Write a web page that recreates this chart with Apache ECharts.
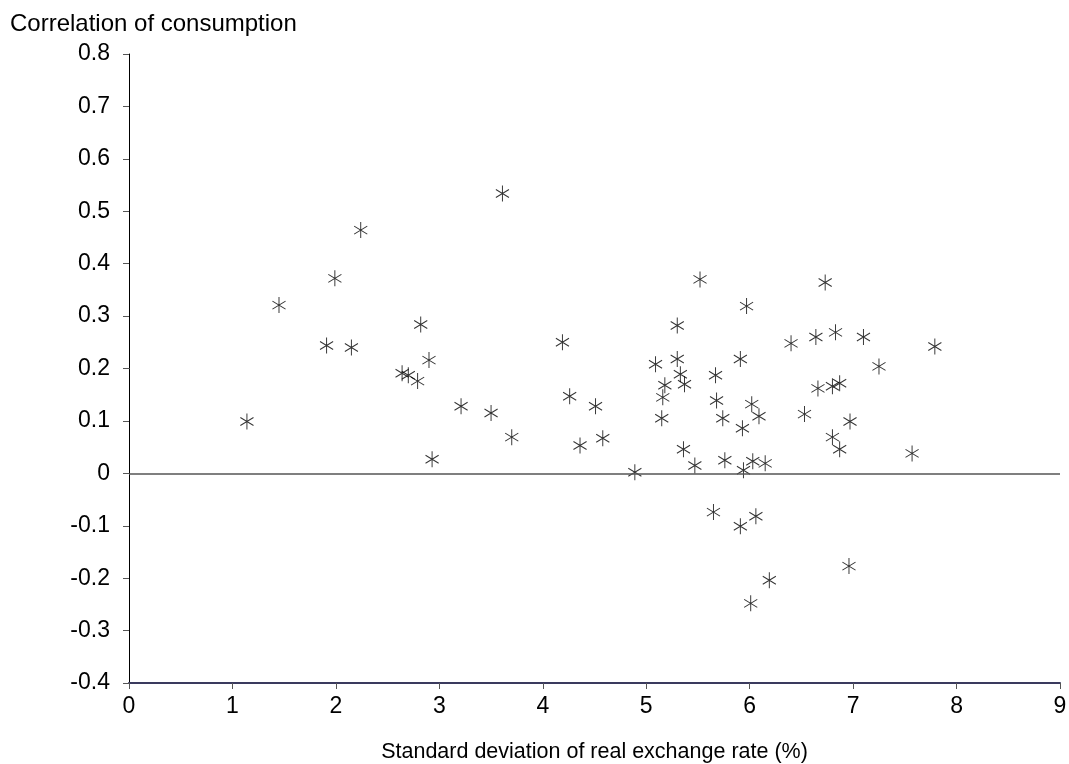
<!DOCTYPE html>
<html>
<head>
<meta charset="utf-8">
<script src="https://cdn.jsdelivr.net/npm/echarts@6/dist/echarts.min.js"></script>
<style>
html, body { margin: 0; padding: 0; background: #fff; }
#chart { width: 1069px; height: 764px; }
</style>
</head>
<body>
<div id="chart"></div>
<script>
// 实际汇率标准差 (%)
var sdRate = [1.14, 1.45, 1.91, 1.99, 2.15, 2.24, 2.64, 2.70, 2.79, 2.82, 2.90, 2.93,
	3.21, 3.50, 3.61, 3.70, 4.19, 4.26, 4.36, 4.51, 4.58, 4.89, 5.09, 5.15, 5.16, 5.18,
	5.30, 5.30, 5.33, 5.37, 5.36, 5.47, 5.52, 5.67, 5.68, 5.74, 5.76, 5.65, 5.91, 6.06,
	6.19, 6.01, 6.96, 5.97, 6.40, 6.64, 6.83, 7.10, 6.73, 7.25, 5.91, 5.93, 6.02, 6.09,
	6.53, 6.66, 6.80, 6.87, 6.97, 6.80, 6.87, 7.57, 5.94, 6.03, 6.15, 7.79];
// 消费相关系数
var consCorr = [0.099, 0.321, 0.244, 0.372, 0.240, 0.464, 0.191, 0.187, 0.176, 0.284, 0.216, 0.027,
	0.128, 0.115, 0.534, 0.069, 0.250, 0.147, 0.053, 0.128, 0.067, 0.002, 0.208, 0.105, 0.145, 0.168,
	0.282, 0.218, 0.189, 0.170, 0.046, 0.015, 0.370, 0.187, 0.139, 0.105, 0.025, -0.074, -0.101, -0.082,
	-0.204, -0.248, -0.177, 0.319, 0.248, 0.260, 0.269, 0.260, 0.364, 0.204, 0.218, 0.086, 0.132, 0.109,
	0.113, 0.162, 0.166, 0.172, 0.099, 0.069, 0.046, 0.038, 0.006, 0.023, 0.019, 0.242];
var xTicks = [0, 9, 1];       // min, max, interval
var yTicks = [-0.4, 0.8, 0.1];

var points = [];
for (var i = 0; i < sdRate.length; i++) {
	points.push([sdRate[i], consCorr[i]]);
}

var font = 'Liberation Sans, Arial, sans-serif';

var option = {
	animation : false,
	textStyle : { fontFamily : font },
	grid : {
		left : 129,
		right : 9,
		top : 54,
		bottom : 81,
		outerBoundsMode : 'none'// 不自动收缩网格
	},
	graphic : [ {
		type : 'text',
		left : 10,
		top : 12,
		style : {
			text : 'Correlation of consumption',
			fontSize : 24,
			fontFamily : font,
			fill : '#000'
		}
	} ],
	xAxis : {
		type : 'value',
		min : xTicks[0],
		max : xTicks[1],
		interval : xTicks[2],
		name : 'Standard deviation of real exchange rate (%)',
		nameLocation : 'middle',
		nameGap : 58,
		nameTextStyle : { fontSize : 21.5, color : '#000', fontFamily : font },
		splitLine : { show : false },
		axisLine : { onZero : false, lineStyle : { color : '#3a3a5e', width : 2 } },
		axisTick : { inside : false, length : 6, lineStyle : { color : '#555' } },
		axisLabel : { fontSize : 23, color : '#000', margin : 12 }
	},
	yAxis : {
		type : 'value',
		min : yTicks[0],
		max : yTicks[1],
		interval : yTicks[2],
		splitLine : { show : false },
		axisLine : { show : true, lineStyle : { color : '#000', width : 1 } },
		axisTick : { show : true, length : 6, lineStyle : { color : '#555' } },
		axisLabel : {
			fontSize : 23,
			color : '#000',
			margin : 19,
			formatter : function(v) {
				return Math.round(v * 10) / 10 + '';
			}
		}
	},
	series : [ {
		type : 'scatter',
		data : points,
		symbol : 'path://M0,-8L0,8M-7,-4L7,4M-7,4L7,-4',
		symbolSize : [15, 16],
		symbolKeepAspect : true,
		itemStyle : {
			color : 'none',
			borderColor : '#000',
			borderWidth : 1
		},
		markLine : {
			silent : true,
			symbol : [ 'none', 'none' ],
			label : { show : false },
			lineStyle : { color : '#555', width : 1.5, type : 'solid' },
			data : [ { yAxis : 0 } ]
		}
	} ]
};

var myChart = echarts.init(document.getElementById('chart'));
myChart.setOption(option, true);
</script>
</body>
</html>
